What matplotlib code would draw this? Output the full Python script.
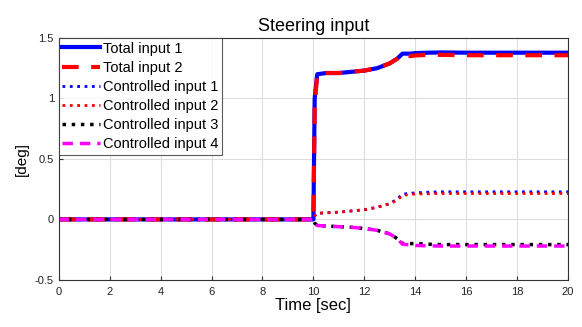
import matplotlib.pyplot as plt

plt.rcParams['font.family'] = ['Liberation Sans', 'DejaVu Sans']

# values
t = [0, 10, 10.05, 10.15, 10.5, 11, 11.5, 12, 12.5, 13, 13.3, 13.5, 13.8, 14, 14.5, 15, 16, 17, 18, 19, 20]
total1 = [0, 0, 1.0, 1.20, 1.21, 1.21, 1.22, 1.23, 1.25, 1.29, 1.33, 1.37, 1.37, 1.375, 1.378, 1.38, 1.378, 1.378, 1.378, 1.378, 1.378]
total2 = [0, 0, 0.95, 1.20, 1.21, 1.21, 1.22, 1.23, 1.25, 1.29, 1.33, 1.365, 1.35, 1.355, 1.36, 1.36, 1.357, 1.357, 1.357, 1.357, 1.357]
ctrl1 = [0, 0, 0.03, 0.05, 0.055, 0.06, 0.07, 0.08, 0.10, 0.13, 0.17, 0.21, 0.215, 0.22, 0.225, 0.228, 0.228, 0.228, 0.228, 0.228, 0.228]
ctrl2 = [0, 0, 0.03, 0.05, 0.055, 0.06, 0.07, 0.08, 0.10, 0.13, 0.16, 0.20, 0.205, 0.21, 0.212, 0.214, 0.214, 0.214, 0.214, 0.214, 0.214]
ctrl3 = [0, 0, -0.03, -0.05, -0.055, -0.06, -0.065, -0.075, -0.09, -0.12, -0.16, -0.20, -0.20, -0.20, -0.205, -0.208, -0.208, -0.208, -0.208, -0.208, -0.208]
ctrl4 = [0, 0, -0.03, -0.05, -0.055, -0.06, -0.065, -0.075, -0.09, -0.12, -0.16, -0.205, -0.21, -0.215, -0.218, -0.22, -0.22, -0.22, -0.22, -0.22, -0.22]

xticks = list(range(0, 21, 2))
yticks = [-0.5, 0, 0.5, 1, 1.5]
ytick_labels = ['-0.5', '0', '0.5', '1', '1.5']

fig = plt.figure(figsize=(5.82, 3.27), dpi=100)
ax = fig.add_axes([0.101, 0.144, 0.875, 0.740])

ax.plot(t, total1, color='#0000ff', lw=3, ls='-', label='Total input 1')
ax.plot(t, total2, color='#ff0000', lw=3, ls=(0, (4, 3)), label='Total input 2')
ax.plot(t, ctrl1, color='#0000ff', lw=2, ls=':', label='Controlled input 1')
ax.plot(t, ctrl2, color='#ff0000', lw=2, ls=':', label='Controlled input 2')
ax.plot(t, ctrl3, color='black', lw=2.5, ls=':', label='Controlled input 3')
ax.plot(t, ctrl4, color='#ff00ff', lw=2.5, ls=(0, (3, 2)), label='Controlled input 4')

ax.set_xlim(0, 20)
ax.set_ylim(-0.5, 1.5)
ax.set_xticks(xticks)
ax.set_yticks(yticks)
ax.set_yticklabels(ytick_labels)
ax.tick_params(direction='in', labelsize=8, length=3, color='#333333', labelcolor='#222222')
ax.tick_params(axis='x', pad=5)
ax.grid(True, color='#dddddd', lw=0.8)
for s in ax.spines.values():
    s.set_color('#333333')
    s.set_linewidth(0.8)

ax.set_title('Steering input', fontsize=13, pad=5)
ax.set_xlabel('Time [sec]', fontsize=12, labelpad=1)
ax.set_ylabel('[deg]', fontsize=11, labelpad=4)

leg = ax.legend(loc='upper left', fontsize=10.5, frameon=True, fancybox=False,
                borderaxespad=0, borderpad=0.25, labelspacing=0.35,
                handlelength=2.6, handletextpad=0.2)
leg.get_frame().set_edgecolor('#333333')
leg.get_frame().set_linewidth(0.8)

fig.savefig('out.png', dpi=100)
